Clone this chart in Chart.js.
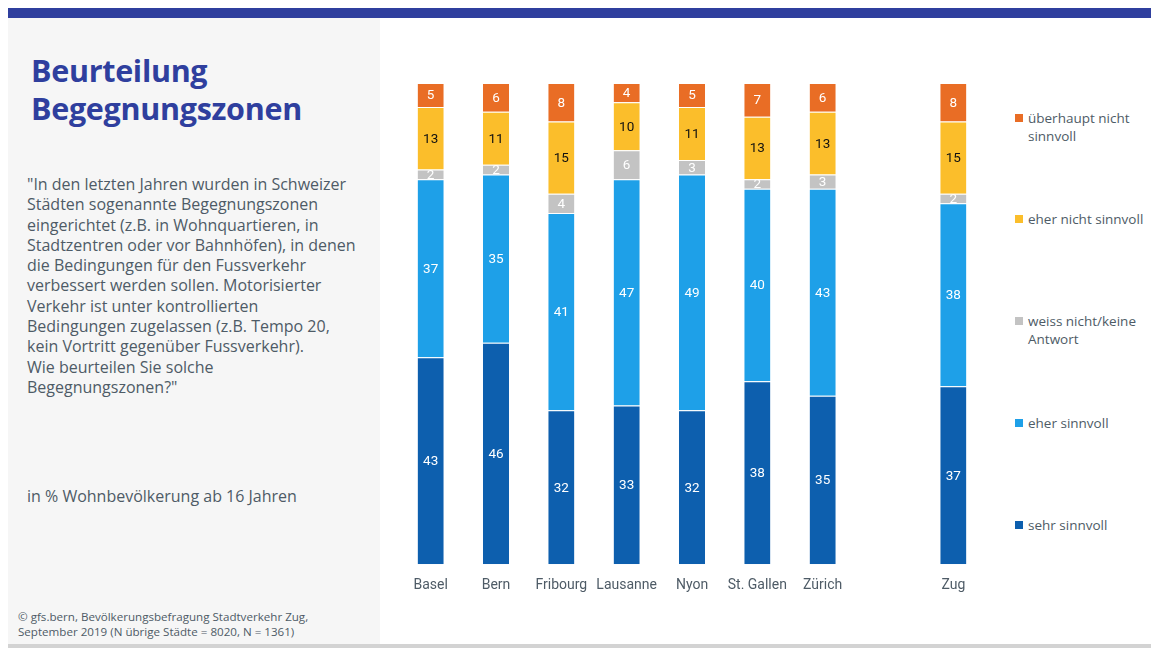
<!DOCTYPE html>
<html>
<head>
<meta charset="utf-8">
<script src="https://cdn.jsdelivr.net/npm/chart.js@4/dist/chart.umd.min.js"></script>
<style>
  html, body { margin: 0; padding: 0; background: #fff; }
  body { width: 1151px; height: 648px; position: relative; overflow: hidden; font-family: "Open Sans", sans-serif; }
  #topbar { position: absolute; left: 8px; top: 8px; width: 1143px; height: 10px; background: #2f3f9e; }
  #panel { position: absolute; left: 8px; top: 18px; width: 372px; height: 626px; background: #f6f6f6; }
  #bottomline { position: absolute; left: 8px; top: 644px; width: 1143px; height: 4px; background: #d3d3d3; }
  h1 { position: absolute; left: 31px; top: 51px; margin: 0; font-size: 30.5px; line-height: 38px; color: #2f3f9e; font-weight: bold; letter-spacing: -0.3px; }
  #question { position: absolute; left: 27px; top: 174px; margin: 0; font-size: 16px; line-height: 20.3px; color: #4e5b66; white-space: nowrap; }
  #base { position: absolute; left: 27px; top: 485px; margin: 0; font-size: 16px; color: #4e5b66; }
  #source { position: absolute; left: 18px; top: 609px; margin: 0; font-size: 11.6px; line-height: 15px; color: #4e5b66; }
  #chartbox { position: absolute; left: 398px; top: 83px; width: 588px; height: 516px; }
  #legend { position: absolute; left: 1015px; top: 0; }
  .item { position: absolute; left: 0; width: 136px; font-size: 13.5px; line-height: 18px; color: #4e5b66; font-family: "Open Sans", sans-serif; }
  .item span { position: absolute; left: 0; top: 5px; width: 8px; height: 8px; }
  .item div { margin-left: 13px; }
</style>
</head>
<body>
<div id="topbar"></div>
<div id="panel"></div>
<div id="bottomline"></div>
<h1>Beurteilung<br>Begegnungszonen</h1>
<p id="question">"In den letzten Jahren wurden in Schweizer<br>Städten sogenannte Begegnungszonen<br>eingerichtet (z.B. in Wohnquartieren, in<br>Stadtzentren oder vor Bahnhöfen), in denen<br>die Bedingungen für den Fussverkehr<br>verbessert werden sollen. Motorisierter<br>Verkehr ist unter kontrollierten<br>Bedingungen zugelassen (z.B. Tempo 20,<br>kein Vortritt gegenüber Fussverkehr).<br>Wie beurteilen Sie solche<br>Begegnungszonen?"</p>
<p id="base">in % Wohnbevölkerung ab 16 Jahren</p>
<p id="source">© gfs.bern, Bevölkerungsbefragung Stadtverkehr Zug,<br>September 2019 (N übrige Städte = 8020, N = 1361)</p>
<div id="chartbox"><canvas id="canvas"></canvas></div>
<div id="legend"></div>
<script>
// cities; the empty entry leaves a gap before Zug
const cities = ["Basel", "Bern", "Fribourg", "Lausanne", "Nyon", "St. Gallen", "Zürich", "", "Zug"];

const sehrSinnvoll     = [43, 46, 32, 33, 32, 38, 35, null, 37];
const eherSinnvoll     = [37, 35, 41, 47, 49, 40, 43, null, 38];
const weissNicht       = [2, 2, 4, 6, 3, 2, 3, null, 2];
const eherNichtSinnvoll = [13, 11, 15, 10, 11, 13, 13, null, 15];
const ueberhauptNicht  = [5, 6, 8, 4, 5, 7, 6, null, 8];

const seriesNames = ["sehr sinnvoll", "eher sinnvoll", "weiss nicht/keine Antwort", "eher nicht sinnvoll", "überhaupt nicht sinnvoll"];
const seriesValues = [sehrSinnvoll, eherSinnvoll, weissNicht, eherNichtSinnvoll, ueberhauptNicht];
const colors = ["#0d5fae", "#1ea0e8", "#c3c3c3", "#fbbe2b", "#e96d25"];
const labelColors = ["#ffffff", "#ffffff", "#ffffff", "#111111", "#ffffff"];

// value labels in the middle of each segment
const segmentLabels = {
  id: 'segmentLabels',
  afterDatasetsDraw(chart) {
    const ctx = chart.ctx;
    ctx.save();
    ctx.font = '13.5px Roboto';
    ctx.textAlign = 'center';
    ctx.textBaseline = 'middle';
    chart.data.datasets.forEach((ds, i) => {
      const meta = chart.getDatasetMeta(i);
      meta.data.forEach((bar, j) => {
        const v = ds.data[j];
        if (v == null) return;
        ctx.fillStyle = labelColors[i];
        ctx.fillText(String(v), bar.x, (bar.y + bar.base) / 2 + 1);
      });
    });
    ctx.restore();
  }
};

const datasets = seriesValues.map((vals, i) => ({
  label: seriesNames[i],
  data: vals,
  backgroundColor: colors[i],
  borderColor: 'rgba(255,255,255,0.5)',
  borderWidth: { top: 1 },
  borderSkipped: false,
  categoryPercentage: 1,
  barPercentage: 0.4
}));

new Chart(document.getElementById("canvas"), {
  type: 'bar',
  data: { labels: cities, datasets: datasets },
  options: {
    responsive: true,
    maintainAspectRatio: false,
    animation: false,
    layout: { padding: 0 },
    plugins: {
      legend: { display: false },
      tooltip: { enabled: false }
    },
    scales: {
      x: {
        stacked: true,
        grid: { display: false },
        border: { display: false },
        ticks: { color: '#4e5b66', font: { family: 'Roboto', size: 14 }, padding: 5, maxRotation: 0, autoSkip: false }
      },
      y: {
        stacked: true,
        display: false,
        min: 0,
        max: 100
      }
    }
  },
  plugins: [segmentLabels]
});

// legend, top entry first
const legendTops = [109, 210, 312, 414, 516];
const legend = document.getElementById('legend');
for (let k = 4; k >= 0; k--) {
  const item = document.createElement('div');
  item.className = 'item';
  item.style.top = legendTops[4 - k] + 'px';
  item.innerHTML = '<span style="background:' + colors[k] + '"></span><div>' + seriesNames[k] + '</div>';
  legend.appendChild(item);
}
</script>
</body>
</html>
